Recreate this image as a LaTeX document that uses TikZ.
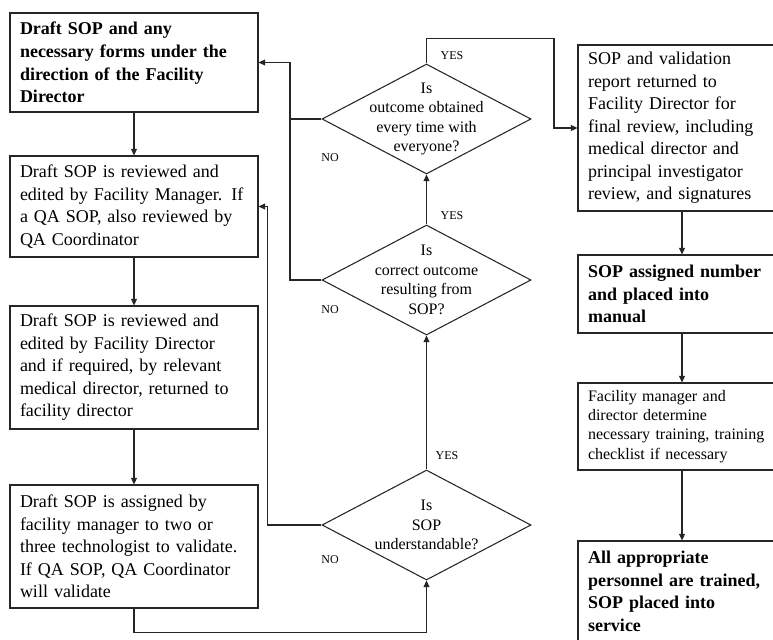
\documentclass[tikz,border=0pt]{standalone}
\usepackage{fontspec}
\setmainfont{Liberation Serif}
\usetikzlibrary{shapes.geometric,arrows.meta}

\begin{document}
\begin{tikzpicture}[
  x=0.75pt, y=-0.75pt,
  lbox/.style={rectangle, draw=black!85, line width=0.8pt, text width=171pt, inner xsep=7.5pt, align=left, font=\fontsize{13.5}{16.9}\selectfont},
  rbox/.style={lbox, text width=141pt},
  boldtext/.style={font=\fontsize{13.5}{16.9}\selectfont\bfseries},
  smalltext/.style={font=\fontsize{12}{14.4}\selectfont},
  decision/.style={diamond, draw=black!85, line width=0.8pt, minimum width=156.75pt, minimum height=82.5pt, inner sep=0pt},
  qtext/.style={align=center, inner sep=0pt, font=\fontsize{12}{14.6}\selectfont},
  answer/.style={inner sep=0pt, font=\fontsize{9}{10}\selectfont},
  arrow/.style={-{Triangle[length=5pt,width=4.5pt]}, line width=0.8pt, draw=black!85},
  link/.style={line width=0.8pt, draw=black!85}
]
\clip (0,0) rectangle (773,639);

% left column
\node[lbox, boldtext, minimum height=74.25pt] (draft) at (134,62.5) {Draft SOP and any\\necessary forms under the\\direction of the Facility\\Director};
\node[lbox, minimum height=75.75pt] (mgrreview) at (134,206.5) {Draft SOP is reviewed and\\edited by Facility Manager. If\\a QA SOP, also reviewed by\\QA Coordinator};
\node[lbox, minimum height=92.25pt] (dirreview) at (134,367.5) {Draft SOP is reviewed and\\edited by Facility Director\\and if required, by relevant\\medical director, returned to\\facility director};
\node[lbox, minimum height=92.25pt] (validate) at (134,546.5) {Draft SOP is assigned by\\facility manager to two or\\three technologist to validate.\\If QA SOP, QA Coordinator\\will validate};

% decisions
\node[decision] (everyone) at (426.5,119) {};
\node[qtext] (everyonetxt) at (everyone) {Is\\outcome obtained\\every time with\\everyone?};
\node[decision] (correct) at (426.5,280) {};
\node[qtext] (correcttxt) at (correct) {Is\\correct outcome\\resulting from\\SOP?};
\node[decision] (clear) at (426.5,525) {};
\node[qtext] (cleartxt) at (clear) {Is\\SOP\\understandable?};

% right column
\node[rbox, minimum height=124.5pt] (final) at (682,128) {SOP and validation\\report returned to\\Facility Director for\\final review, including\\medical director and\\principal investigator\\review, and signatures};
\node[rbox, boldtext, minimum height=58.5pt] (numbered) at (682,294) {SOP assigned number\\and placed into\\manual};
\node[rbox, smalltext, minimum height=65.25pt] (training) at (682,426.5) {Facility manager and\\director determine\\necessary training, training\\checklist if necessary};
\node[rbox, boldtext, minimum height=75.75pt] (service) at (682,591.5) {All appropriate\\personnel are trained,\\SOP placed into\\service};

% answers
\node[answer] (yes1) at (452,56) {YES};
\node[answer] (yes2) at (452,216) {YES};
\node[answer] (yes3) at (447,456) {YES};
\node[answer] (no1) at (330,158) {NO};
\node[answer] (no2) at (330,310) {NO};
\node[answer] (no3) at (330,560) {NO};

\coordinate (nomerge) at (290,119);

\draw[arrow] (draft) -- (mgrreview);
\draw[arrow] (mgrreview) -- (dirreview);
\draw[arrow] (dirreview) -- (validate);
\draw[arrow] (validate.south) -- ++(0,24) -| (clear.south);
\draw[arrow] (clear.north) -- (correct.south);
\draw[arrow] (correct.north) -- (everyone.south);
\draw[arrow] (everyone.north) -- ++(0,-25) -| (554,128) -- (final.west);
\draw[arrow] (everyone.west) -- (nomerge) |- (draft.east);
\draw[link] (correct.west) -| (nomerge);
\draw[arrow] (clear.west) -- ++(-54,0) |- (mgrreview.east);
\draw[arrow] (final) -- (numbered);
\draw[arrow] (numbered) -- (training);
\draw[arrow] (training) -- (service);
\end{tikzpicture}
\end{document}
